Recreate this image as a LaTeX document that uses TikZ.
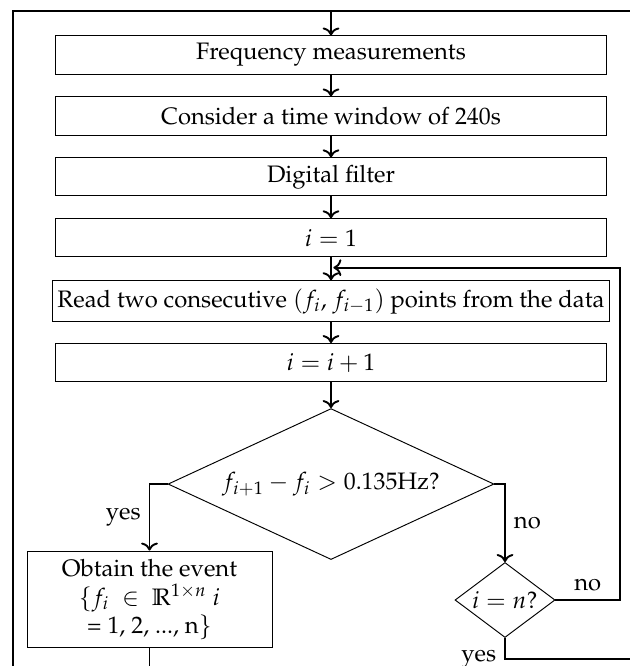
\documentclass[tikz,border=0pt]{standalone}
\usepackage[T1]{fontenc}
\usepackage{mathpazo}
\usepackage{amssymb}
\usepackage{tikz}
\usetikzlibrary{positioning, shapes.geometric, arrows.meta, calc}

\begin{document}
\begin{tikzpicture}[
            x=0.42pt, y=-0.42pt,
            box/.style={draw=black, thin, rectangle, minimum width=231.8pt, minimum height=16pt, inner sep=2pt, font=\normalsize},
            decision/.style={draw=black, thin, diamond, inner sep=0pt, font=\normalsize},
            line/.style={thick},
            arrow/.style={thick, ->},
            lbl/.style={font=\normalsize}
        ]
        \useasboundingbox (0,0) rectangle (630,666);

        % Knoten
        \node[box] (meas) at (331,55) {Frequency measurements};
        \node[box, below=9.2pt of meas] (win) {Consider a time window of 240s};
        \node[box, below=9.2pt of win] (filt) {Digital filter};
        \node[box, below=9.2pt of filt] (init) {$i=1$};
        \node[box, minimum height=17.2pt, below=9.6pt of init] (read) {Read two consecutive $(f_i$, $f_{i-1})$ points from the data};
        \node[box, below=8.8pt of read] (incr) {$i=i+1$};
        \node[decision, minimum width=136.9pt, minimum height=63.4pt, shape aspect=2.16, below=10.9pt of incr] (thr) {$f_{i+1}-f_i>0.135$Hz?};
        \node[box, minimum width=102.9pt, minimum height=40.7pt, align=center] (evt) at (149.5,599.5) {Obtain the event\\ $\{f_i\ \in\ \mathbb{R}^{1\times n}\ i$\\ = 1, 2, ..., n$\}$};
        \node[decision, minimum width=42pt, minimum height=31.5pt, shape aspect=1.33] (chk) at (505,600) {$i=n?$};

        % Hilfspunkte
        \coordinate (tl) at (13,10.7);
        \coordinate (tr) at (630,10.7);
        \coordinate (bl) at (13,666);
        \coordinate (br) at (630,659);
        \coordinate (rt) at (620,0);
        \coordinate (loop) at ($(init.south)!0.45!(read.north)$);

        % Kanten
        \draw[line] (bl) -- (tl) -- (tr);
        \draw[arrow] (meas.north |- tl) -- (meas.north);
        \draw[arrow] (meas) -- (win);
        \draw[arrow] (win) -- (filt);
        \draw[arrow] (filt) -- (init);
        \draw[arrow] (init) -- (read);
        \draw[arrow] (read) -- (incr);
        \draw[arrow] (incr) -- (thr);
        \draw[arrow] (thr.west) -| (evt.north) node[pos=0.75, left, lbl] {yes};
        \draw[arrow] (thr.east) -| (chk.north) node[pos=0.75, right, lbl] {no};
        \draw[arrow, shorten >=1pt] (chk.east) -- (chk.east -| rt) node[midway, above, lbl] {no} -- (rt |- loop) -- (loop);
        \draw[line] (chk.south) |- (br) node[pos=0.5, left, lbl] {yes};
        \draw[line] (evt.south) -- (evt.south |- bl);

    \end{tikzpicture}
\end{document}
